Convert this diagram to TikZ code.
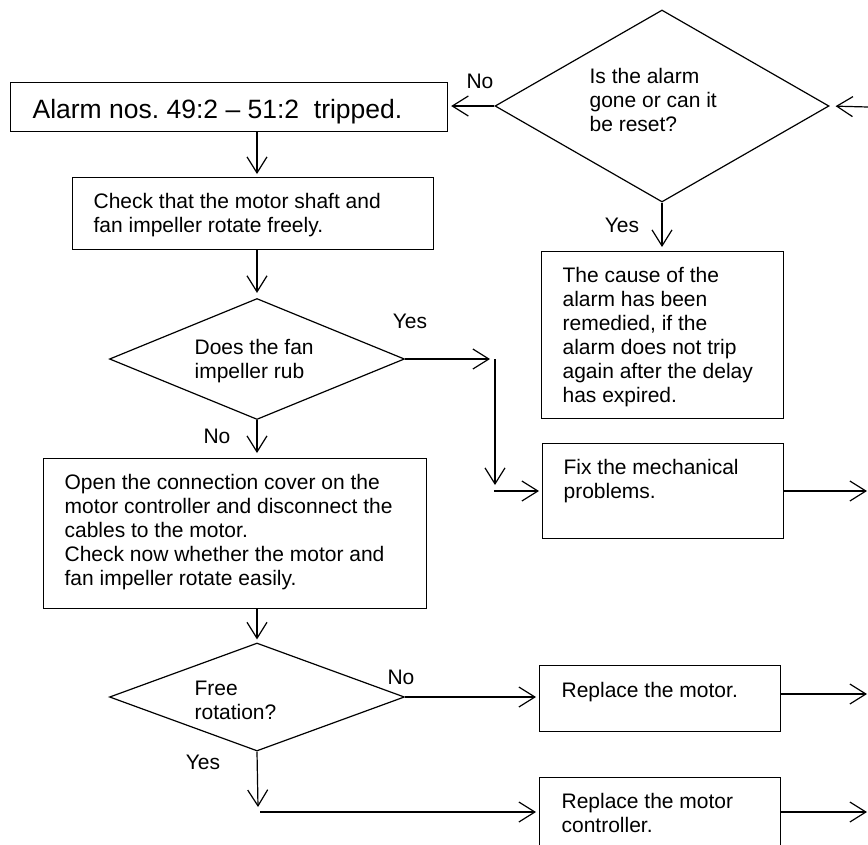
\documentclass[tikz,border=0pt]{standalone}
\usepackage{fontspec}
\setmainfont{Liberation Sans}
\usetikzlibrary{arrows.meta,shapes.geometric,positioning}

\begin{document}
\begin{tikzpicture}[x=1pt, y=-1pt, line width=1.2pt,
		>={Straight Barb[length=16pt,width=20pt]},
		box/.style={draw, rectangle, anchor=north west, inner sep=0pt},
		decision/.style={draw, diamond, inner sep=0pt},
		txt/.style={inner sep=0pt, anchor=north west, align=left, font=\fontsize{21pt}{24pt}\selectfont},
		lbl/.style={inner sep=0pt, font=\fontsize{21pt}{24pt}\selectfont}]
		% 1. Page size (pixels of the original)
		\useasboundingbox (0,0) rectangle (868,844);
		\clip (0,0) rectangle (868,844);

		% 2. Decisions
		\node[decision, minimum width=334pt, minimum height=192pt] (q1) at (662,106) {};
		\node[txt] (q1txt) at (589,68) {Is the alarm\\gone or can it\\be reset?};
		\node[decision, minimum width=295pt, minimum height=121pt] (q2) at (257,359) {};
		\node[txt] (q2txt) at (194,339) {Does the fan\\impeller rub};
		\node[decision, minimum width=295pt, minimum height=108pt] (q3) at (257,697) {};
		\node[txt] (q3txt) at (194,680) {Free\\rotation?};

		% 3. Boxes
		\node[box, minimum width=437pt, minimum height=49pt] (alarm) at (10,82) {};
		\node[inner sep=0pt, anchor=base west, font=\fontsize{26.5pt}{30pt}\selectfont] (alarmtxt) at (32,118) {Alarm nos.\ 49:2 -- 51:2\ \ tripped.};
		\node[box, minimum width=361pt, minimum height=72pt] (check) at (72,177) {};
		\node[txt] (checktxt) at ([shift={(21,16)}]check.north west) {Check that the motor shaft and\\fan impeller rotate freely.};
		\node[box, minimum width=242pt, minimum height=167pt] (cause) at (541,251) {};
		\node[txt] (causetxt) at ([shift={(21,16)}]cause.north west) {The cause of the\\alarm has been\\remedied, if the\\alarm does not trip\\again after the delay\\has expired.};
		\node[box, minimum width=241pt, minimum height=95pt] (fix) at (542,443) {};
		\node[txt] (fixtxt) at ([shift={(21,16)}]fix.north west) {Fix the mechanical\\problems.};
		\node[box, minimum width=383pt, minimum height=150pt] (open) at (43,458) {};
		\node[txt] (opentxt) at ([shift={(21,16)}]open.north west) {Open the connection cover on the\\motor controller and disconnect the\\cables to the motor.\\Check now whether the motor and\\fan impeller rotate easily.};
		\node[box, minimum width=241pt, minimum height=66pt] (motor) at (539,665) {};
		\node[txt] (motortxt) at ([shift={(22,17)}]motor.north west) {Replace the motor.};
		\node[box, minimum width=241pt, minimum height=80pt] (ctrl) at (539,777) {};
		\node[txt] (ctrltxt) at ([shift={(22,16)}]ctrl.north west) {Replace the motor\\controller.};

		% 4. Free ends
		\coordinate (inq1) at (868,107);
		\coordinate (yes1) at (490,359);
		\coordinate (yes2) at (495,359);
		\coordinate (yes3) at (495,485);
		\coordinate (yes4) at (494,491);
		\coordinate (outfix) at (867,491);
		\coordinate (outmotor) at (867,694);
		\coordinate (yes5) at (258,807);
		\coordinate (yes6) at (260,812);
		\coordinate (outctrl) at (867,812);

		% 5. Connectors
		\draw[->, shorten >=3pt] (q1.west) -- (alarm.east |- q1.west);
		\draw[->, shorten >=6pt] (inq1) -- (q1.east);
		\draw[->, shorten >=4pt] (q1.south) -- (cause.north -| q1.south);
		\draw[->, shorten >=3pt] (alarm.south -| q2.north) -- (check.north -| q2.north);
		\draw[->, shorten >=5pt] (check.south -| q2.north) -- (q2.north);
		\draw[->] (q2.east) -- (yes1);
		\draw[->] (yes2) -- (yes3);
		\draw[->, shorten >=3pt] (yes4) -- (fix.west |- yes4);
		\draw[->, shorten >=5pt] (q2.south) -- (open.north -| q2.south);
		\draw[->] (fix.east |- outfix) -- (outfix);
		\draw[->, shorten >=3pt] (open.south -| q3.north) -- (q3.north);
		\draw[->, shorten >=3pt] (q3.east) -- (motor.west |- q3.east);
		\draw[->] (motor.east |- outmotor) -- (outmotor);
		\draw[->] (q3.south) -- (yes5);
		\draw[->, shorten >=3pt] (yes6) -- (ctrl.west |- yes6);
		\draw[->] (ctrl.east |- outctrl) -- (outctrl);

		% 6. Yes / No labels
		\node[lbl] (no1) at (480,81) {No};
		\node[lbl] (yes1lbl) at (622,225) {Yes};
		\node[lbl] (yes2lbl) at (410,321) {Yes};
		\node[lbl] (no2) at (217,436) {No};
		\node[lbl] (no3) at (401,677) {No};
		\node[lbl] (yes3lbl) at (203,762) {Yes};
	\end{tikzpicture}
\end{document}
